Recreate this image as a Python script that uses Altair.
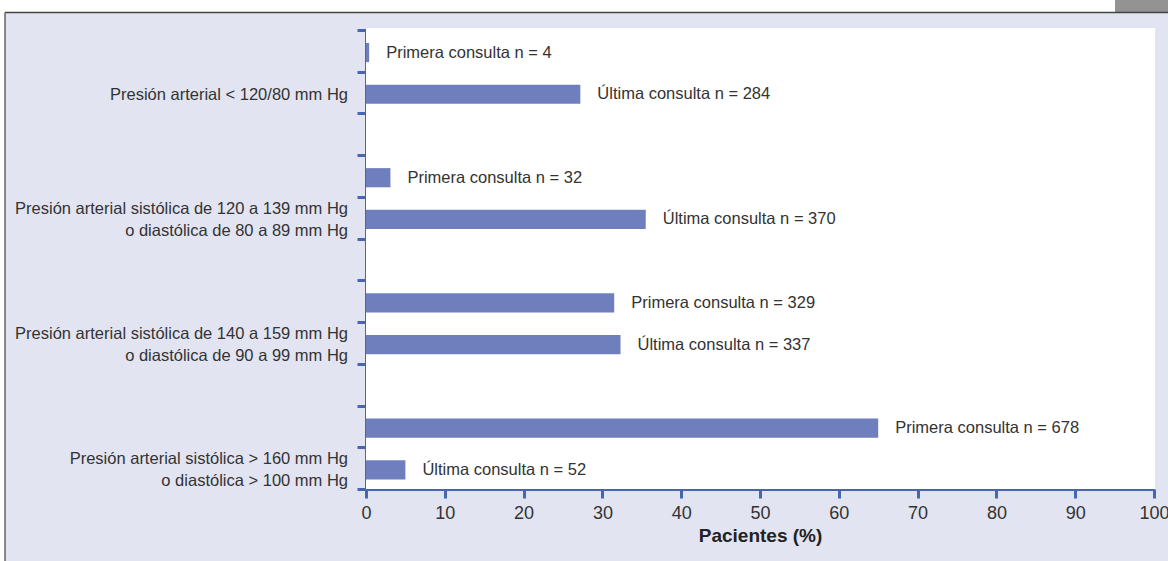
import altair as alt
import pandas as pd

# Blood-pressure categories (one per group of bars)
groups = [
    "Presión arterial < 120/80 mm Hg",
    "Presión arterial sistólica de 120 a 139 mm Hg\no diastólica de 80 a 89 mm Hg",
    "Presión arterial sistólica de 140 a 159 mm Hg\no diastólica de 90 a 99 mm Hg",
    "Presión arterial sistólica > 160 mm Hg\no diastólica > 100 mm Hg",
]
visits = ["Primera", "Última"]

# Percentage of patients and counts per visit
primera_pct = [0.4, 3.1, 31.5, 65.0]
ultima_pct = [27.2, 35.5, 32.3, 5.0]
primera_n = [4, 32, 329, 678]
ultima_n = [284, 370, 337, 52]

x_ticks = list(range(0, 101, 10))

BAR = "#6f7fbd"
AXIS = "#4866b0"
INK = "#333333"
BG = "#e2e4f2"
FONT = "Liberation Sans"
FS = 16.5
LINE_H = 22

# Each group takes three slots on the vertical scale: two bars and a gap
rows = []
for g, label in enumerate(groups):
    for k, (pct, n) in enumerate([(primera_pct[g], primera_n[g]), (ultima_pct[g], ultima_n[g])]):
        slot = g * 3 + k
        rows.append({
            "grupo": label,
            "visita": visits[k],
            "pct": pct,
            "n": n,
            "y0": slot + 0.31,
            "y1": slot + 0.77,
            "ym": slot + 0.54,
            "texto": f"{visits[k]} consulta n = {n}",
        })
bars_df = pd.DataFrame(rows)
groups_df = pd.DataFrame({
    "grupo": groups,
    "yc": [g * 3 + 1.55 for g in range(len(groups))],
    "lineas": [label.count("\n") + 1 for label in groups],
})

y_scale = alt.Scale(domain=[0, 11], reverse=True, nice=False, zero=False)
x_scale = alt.Scale(domain=[0, 100], nice=False)

one = alt.Data(values=[{"k": 1}])

# Frame decorations around the panel
top_strip = alt.Chart(one).mark_rect(color="white").encode(
    x=alt.value(-366), x2=alt.value(802), y=alt.value(-30), y2=alt.value(-17.5))
left_strip = alt.Chart(one).mark_rect(color="white").encode(
    x=alt.value(-366), x2=alt.value(-361), y=alt.value(-30), y2=alt.value(531))
grey_tab = alt.Chart(one).mark_rect(color="#939393").encode(
    x=alt.value(749), x2=alt.value(802), y=alt.value(-30), y2=alt.value(-17.5))
top_line = alt.Chart(one).mark_rule(color="#444444", strokeWidth=1.5).encode(
    x=alt.value(-361), x2=alt.value(802), y=alt.value(-17.5))
left_line = alt.Chart(one).mark_rule(color="#666666", strokeWidth=1.5).encode(
    x=alt.value(-361), y=alt.value(-17.5), y2=alt.value(531))
plot_bg = alt.Chart(one).mark_rect(color="white").encode(
    x=alt.value(0), x2=alt.value(789), y=alt.value(-2), y2=alt.value(459))

bars = alt.Chart(bars_df).mark_bar(color=BAR).encode(
    x=alt.X("pct:Q", scale=x_scale,
            axis=alt.Axis(values=x_ticks, title="Pacientes (%)", grid=False,
                          domainColor=AXIS, domainWidth=3, tickColor=AXIS, tickWidth=3,
                          tickSize=9, labelFontSize=18, labelColor=INK, labelFont=FONT,
                          labelPadding=6, labelFlush=False, titleFontSize=19,
                          titleFont=FONT, titleFontWeight="bold", titleColor="#222222",
                          titlePadding=4)),
    x2=alt.value(0),
    y=alt.Y("y0:Q", scale=y_scale,
            axis=alt.Axis(values=list(range(12)), labels=False, title=None, grid=False,
                          domainColor=AXIS, domainWidth=3, tickColor=AXIS, tickWidth=3,
                          tickSize=9)),
    y2="y1:Q",
)

bar_text = alt.Chart(bars_df).mark_text(
    align="left", baseline="middle", dx=17, fontSize=FS, font=FONT, color=INK
).encode(
    x=alt.X("pct:Q", scale=x_scale),
    y=alt.Y("ym:Q", scale=y_scale),
    text="texto:N",
)


def group_labels(nlines):
    # two-line labels are lifted by half a line so the block stays centred
    return alt.Chart(groups_df[groups_df["lineas"] == nlines]).mark_text(
        align="right", baseline="middle", fontSize=FS, font=FONT, color=INK,
        lineBreak="\n", lineHeight=LINE_H, dy=-(nlines - 1) * LINE_H / 2
    ).encode(
        x=alt.value(-18),
        y=alt.Y("yc:Q", scale=y_scale),
        text="grupo:N",
    )


chart = alt.layer(
    top_strip, left_strip, grey_tab, top_line, left_line, plot_bg,
    bars, bar_text, group_labels(1), group_labels(2)
).properties(
    width=788, height=459,
    padding={"left": 366, "top": 30, "right": 14, "bottom": 72},
    autosize=alt.AutoSizeParams(type="none"),
    background=BG,
).configure_view(stroke=None, fill=None)

chart.save("out.html", embed_options={"renderer": "svg", "actions": False})
